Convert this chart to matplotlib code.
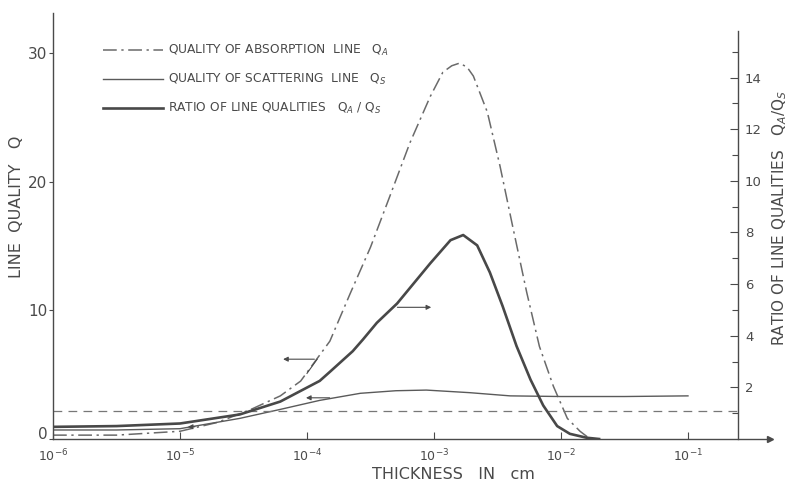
import numpy as np
import matplotlib
matplotlib.use("Agg")
import matplotlib.pyplot as plt
from matplotlib.lines import Line2D
from matplotlib.ticker import NullLocator, FixedLocator
from matplotlib.transforms import ScaledTranslation

# ---------------- data ----------------
# log10 of thickness (cm)
qa_logx = [-6.0, -5.5, -5.0, -4.7, -4.43, -4.21, -4.05, -3.82, -3.66, -3.50,
           -3.35, -3.19, -3.03, -2.93, -2.86, -2.80, -2.74, -2.69, -2.58,
           -2.48, -2.38, -2.27, -2.17, -2.06, -1.95, -1.85, -1.77]
qa = [0.3, 0.3, 0.6, 1.3, 2.35, 3.35, 4.5, 7.6, 11.3, 14.9,
      18.8, 23.0, 26.6, 28.5, 29.0, 29.2, 28.9, 28.2, 25.4,
      21.2, 16.5, 11.4, 7.2, 4.1, 1.6, 0.6, 0.0]

qs_logx = [-6.0, -5.5, -5.0, -4.53, -4.21, -3.9, -3.58, -3.3, -3.06, -2.72,
           -2.40, -2.0, -1.5, -1.0]
qs = [0.7, 0.7, 0.8, 1.6, 2.3, 3.0, 3.55, 3.75, 3.8, 3.6,
      3.35, 3.3, 3.3, 3.35]

ratio_logx = [-6.0, -5.5, -5.0, -4.53, -4.21, -3.9, -3.82, -3.64, -3.56, -3.45,
              -3.29, -3.03, -2.87, -2.77, -2.66, -2.56, -2.46, -2.35, -2.24,
              -2.14, -2.03, -1.93, -1.80, -1.70]
ratio = [0.47, 0.5, 0.6, 0.95, 1.45, 2.25, 2.6, 3.4, 3.85, 4.5,
         5.25, 6.8, 7.7, 7.9, 7.5, 6.45, 5.15, 3.6, 2.3,
         1.3, 0.5, 0.2, 0.05, 0.0]

ref_level = 2.2  # horizontal dashed line (left axis units)

x_ticks = [1e-6, 1e-5, 1e-4, 1e-3, 1e-2, 1e-1]
x_ticklabels = ["$10^{-6}$", "$10^{-5}$", "$10^{-4}$", "$10^{-3}$", "$10^{-2}$", "$10^{-1}$"]
left_ticks = [0, 10, 20, 30]
right_ticks = [2, 4, 6, 8, 10, 12, 14]
right_minor = [1, 3, 5, 7, 9, 11, 13, 15]

legend_labels = ["QUALITY OF ABSORPTION  LINE   Q$_A$",
                 "QUALITY OF SCATTERING  LINE   Q$_S$",
                 "RATIO OF LINE QUALITIES   Q$_A$ / Q$_S$"]

# ---------------- styling ----------------
ink = "#4a4a4a"
plt.rcParams["font.family"] = ["DejaVu Sans"]

fig = plt.figure(figsize=(7.9, 4.9), dpi=100)
ax = fig.add_axes([0.0671, 0.1041, 0.9076, 0.8694])
ax2 = ax.twinx()

right_frac = 0.9554
xmax = 10 ** -0.354

ax.set_xscale("log")
ax.set_xlim(1e-6, xmax)
ax.set_ylim(0, 33.1)
ax2.set_ylim(0, 16.5)

qa_style = dict(color="#6a6a6a", lw=1.1, dashes=(9, 3, 1.5, 3))
qs_style = dict(color="#5a5a5a", lw=1.0)
ratio_style = dict(color="#484848", lw=1.9)

ax.plot(10 ** np.array(qa_logx), qa, **qa_style)
ax.plot(10 ** np.array(qs_logx), qs, **qs_style)
ax2.plot(10 ** np.array(ratio_logx), ratio, **ratio_style)
ax.axhline(ref_level, xmin=0, xmax=right_frac, color="#777777", lw=0.9, dashes=(7, 5))

# arrows pointing to the respective axes
arr = dict(arrowstyle="-|>", color=ink, lw=0.8, mutation_scale=7)
ax.annotate("", xy=(10 ** -4.21, 6.2), xytext=(10 ** -3.92, 6.2), arrowprops=arr)
ax.plot([10 ** -3.92, 10 ** -4.0], [6.2, 5.1], color=ink, lw=0.8)
ax.annotate("", xy=(10 ** -4.03, 3.2), xytext=(10 ** -3.80, 3.2), arrowprops=arr)
ax.annotate("", xy=(10 ** -4.96, 0.95), xytext=(10 ** -4.86, 0.95), arrowprops=arr)
ax2.annotate("", xy=(10 ** -3.0, 5.1), xytext=(10 ** -3.31, 5.1), arrowprops=arr)

# axes / spines
for s in ["top", "right"]:
    ax.spines[s].set_visible(False)
for s in ["top", "left", "bottom"]:
    ax2.spines[s].set_visible(False)
ax2.spines["right"].set_position(("axes", right_frac))
ax2.spines["right"].set_bounds(0, 15.8)
for sp in [ax.spines["left"], ax.spines["bottom"], ax2.spines["right"]]:
    sp.set_color(ink)
    sp.set_linewidth(1.0)
ax.plot(1, 0, marker=">", ms=5, color=ink, transform=ax.transAxes, clip_on=False)

ax.set_xticks(x_ticks)
ax.set_xticklabels(x_ticklabels)
ax.xaxis.set_minor_locator(NullLocator())
ax.tick_params(axis="x", direction="in", length=5, width=0.8, color=ink,
               labelsize=9, labelcolor=ink, pad=6)
ax.set_yticks(left_ticks)
ax.tick_params(axis="y", direction="out", length=3, width=0.8, color=ink,
               labelsize=11, labelcolor=ink, pad=1)
# lift the "0" label slightly, as in the original
zero_lbl = ax.get_yticklabels()[0]
zero_lbl.set_transform(zero_lbl.get_transform() + ScaledTranslation(0, 4 / 72, fig.dpi_scale_trans))
ax2.set_yticks(right_ticks)
ax2.yaxis.set_minor_locator(FixedLocator(right_minor))
ax2.tick_params(axis="y", which="major", direction="in", length=6, width=0.8,
                color=ink, labelsize=9.5, labelcolor=ink, pad=5)
ax2.tick_params(axis="y", which="minor", direction="in", length=4, width=0.8, color=ink)

# legend
handles = [Line2D([], [], **qa_style), Line2D([], [], **qs_style), Line2D([], [], **ratio_style)]
leg = ax.legend(handles, legend_labels, loc="upper left",
                bbox_to_anchor=(103 / 790, 1 - 43 / 490), bbox_transform=fig.transFigure,
                frameon=False, borderpad=0, borderaxespad=0, handlelength=4.9,
                handletextpad=0.45, labelspacing=1.15, fontsize=8.8)
for t in leg.get_texts():
    t.set_color(ink)

# axis labels
fig.text(17 / 790, 1 - 207 / 490, "LINE  QUALITY   Q", rotation=90, ha="center", va="center",
         fontsize=11.5, color=ink)
fig.text(453 / 790, 1 - 474 / 490, "THICKNESS   IN   cm", ha="center", va="center",
         fontsize=11.5, color=ink)
fig.text(780 / 790, 1 - 218 / 490, "RATIO OF LINE QUALITIES   Q$_A$/Q$_S$", rotation=90,
         ha="center", va="center", fontsize=11, color=ink)

fig.savefig("out.png", dpi=100)
